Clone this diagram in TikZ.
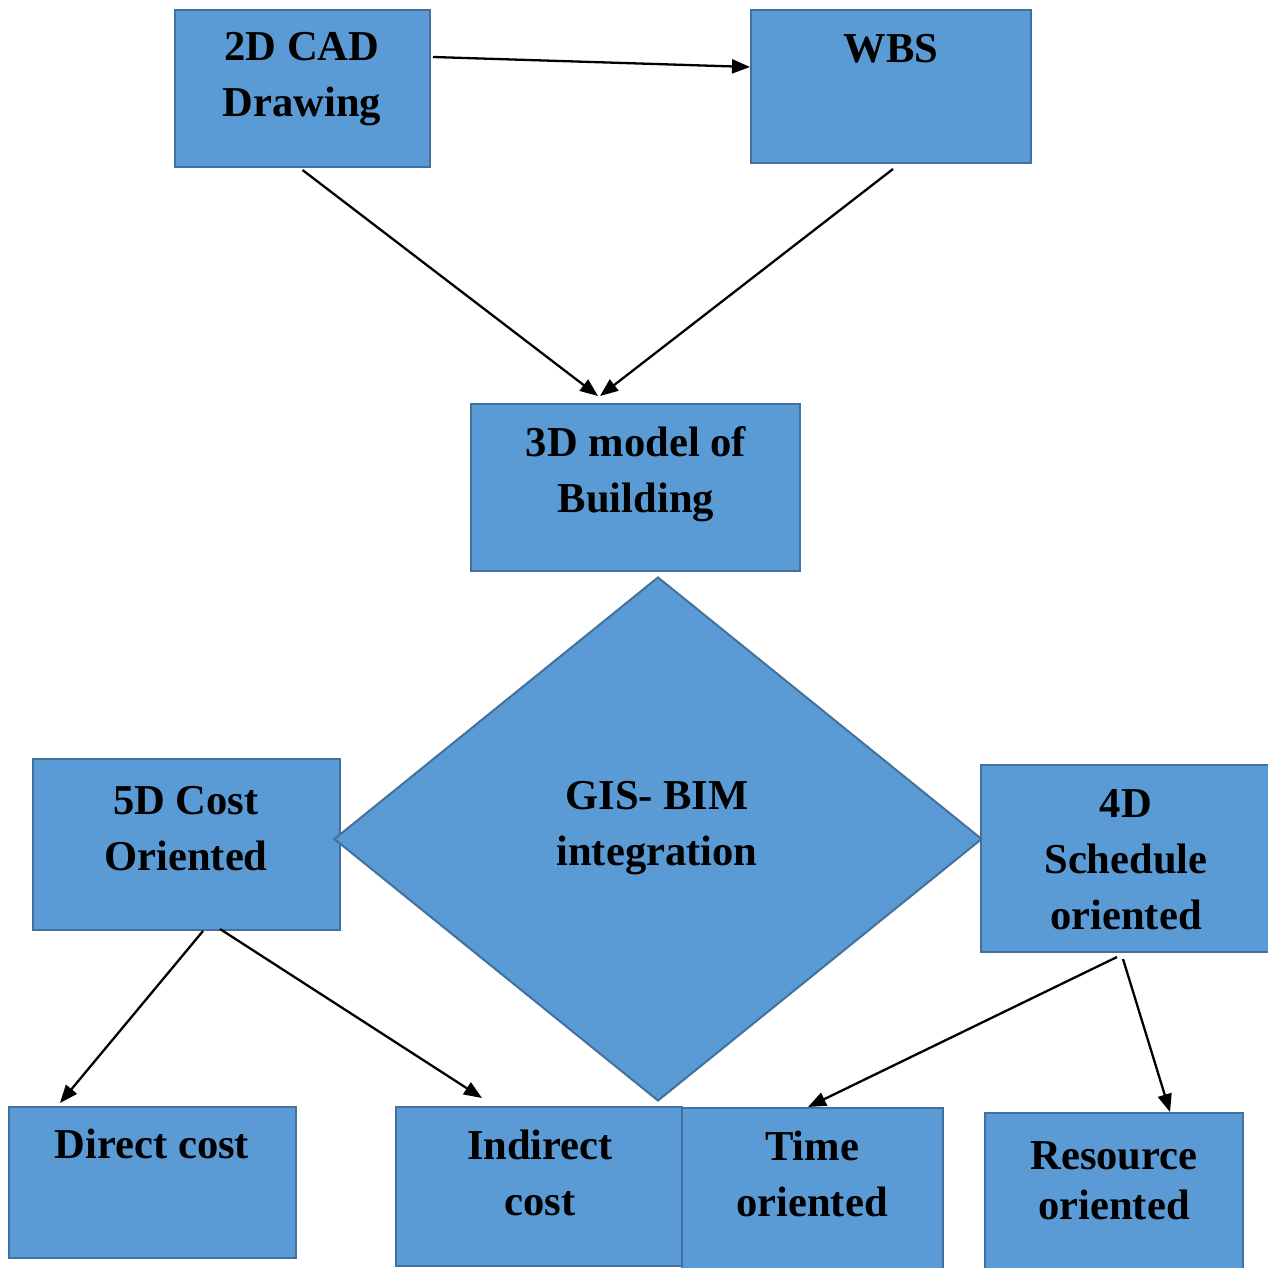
\documentclass[tikz,border=0pt]{standalone}
\usepackage{fontspec}
\setmainfont{Liberation Serif}
\usetikzlibrary{arrows.meta,shapes.geometric,calc}
\definecolor{boxfill}{HTML}{5B9BD5}
\definecolor{boxline}{HTML}{41719C}

\begin{document}
\begin{tikzpicture}[x=1pt,y=-1pt,
  box/.style={draw=boxline, fill=boxfill, line width=2pt, rectangle, inner sep=0pt},
  rhomb/.style={draw=boxline, fill=boxfill, line width=2pt, diamond, inner sep=0pt},
  caption/.style={font=\fontsize{42.6}{56}\selectfont\bfseries, align=center, anchor=base, inner sep=0pt},
  flow/.style={draw=black, line width=2.3pt, -{Triangle[length=18pt,width=14pt]}}]
\useasboundingbox (0,0) rectangle (1267,1268);

% boxes
\node[box, minimum width=255pt, minimum height=157pt] (cad) at (302.5,88.5) {};
\node[box, minimum width=280pt, minimum height=153pt] (wbs) at (891,86.5) {};
\node[box, minimum width=329pt, minimum height=167pt] (model) at (635.5,487.5) {};
\node[box, minimum width=307pt, minimum height=171pt] (cost5) at (186.5,844.5) {};
\node[box, minimum width=309pt, minimum height=187pt] (sched4) at (1135.5,858.5) {};
\node[box, minimum width=287pt, minimum height=151pt] (direct) at (152.5,1182.5) {};
\node[box, minimum width=286pt, minimum height=159pt] (indirect) at (539,1186.5) {};
\node[box, minimum width=261pt, minimum height=182pt] (timeo) at (812.5,1199) {};
\node[box, minimum width=258pt, minimum height=177pt] (resource) at (1114,1201.5) {};

% central decision shape, its side tips lying over the neighbouring boxes
\node[rhomb, minimum width=648pt, minimum height=524pt] (gis) at (658,839) {};

% captions (anchored at the baseline of their last line)
\node[caption] (tcad) at (302,117) {2D CAD\\Drawing};
\node[caption] (twbs) at (891,63) {WBS};
\node[caption] (tmodel) at (636,512) {3D model of\\Building};
\node[caption] (tgis) at (657,865) {GIS- BIM\\integration};
\node[caption] (tcost5) at (186,870) {5D Cost\\Oriented};
\node[caption] (tsched4) at (1126,929) {4D\\Schedule\\oriented};
\node[caption] (tdirect) at (152,1158) {Direct cost};
\node[caption] (tindirect) at (540,1215) {Indirect\\cost};
\node[caption] (ttime) at (812,1216) {Time\\oriented};
\node[caption, font=\fontsize{42.6}{50}\selectfont\bfseries] (tresource) at (1114,1219) {Resource\\oriented};

% connectors
\draw[flow] ($(cad.east)+(2,-31.5)$) -- ($(wbs.west)+(0,-19.5)$);
\draw[flow] ($(cad.south)+(0,2)$) -- ($(model.north)+(-37.5,-7)$);
\draw[flow] ($(wbs.south)+(2,5)$) -- ($(model.north)+(-35.5,-7)$);
\draw[flow] ($(cost5.south)+(16.5,0)$) -- ($(direct.north)+(-92.5,-3)$);
\draw[flow] ($(cost5.south)+(33.5,-2)$) -- ($(indirect.north)+(-57,-8)$);
\draw[flow] ($(sched4.south)+(-18.5,4)$) -- ($(timeo.north)+(-4.5,0)$);
\draw[flow] ($(sched4.south)+(-12.5,6)$) -- ($(resource.north)+(56,0)$);
\end{tikzpicture}
\end{document}
